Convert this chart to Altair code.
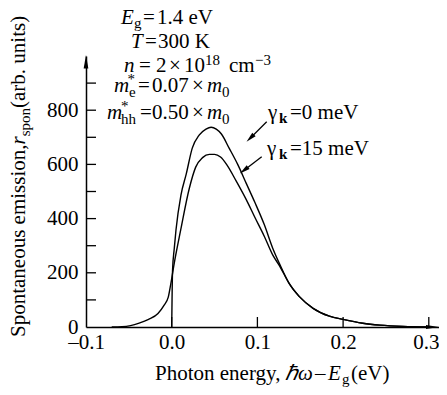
import altair as alt
import pandas as pd
import math

# ---------------- data ----------------
E_gamma0 = [0.0, 0.0004, 0.001, 0.003, 0.005, 0.0108, 0.017, 0.024, 0.032, 0.040, 0.046,
            0.052, 0.058, 0.067, 0.077, 0.087, 0.097, 0.108, 0.118, 0.126, 0.137, 0.149,
            0.165, 0.184, 0.200, 0.223, 0.243, 0.270, 0.300]
R_gamma0 = [0, 100, 210, 290, 358, 487, 565, 660, 708, 730, 737,
            730, 712, 660, 600, 530, 460, 378, 290, 232, 161, 112,
            69, 40, 28, 14, 7, 2, 0]

E_gamma15 = [-0.07, -0.058, -0.048, -0.038, -0.027, -0.016, -0.009, -0.004, -0.001, 0.003,
             0.0105, 0.0205, 0.028, 0.036, 0.044, 0.050, 0.057, 0.064, 0.075, 0.087, 0.097,
             0.108, 0.118, 0.126, 0.137, 0.149, 0.165, 0.184, 0.200, 0.223, 0.243, 0.270, 0.300]
R_gamma15 = [0, 1, 5, 14, 28, 50, 80, 110, 160, 236,
             358, 511, 590, 625, 637, 637, 627, 600, 540, 470, 405,
             335, 265, 225, 161, 112, 69, 40, 28, 14, 7, 2, 0]

x_label_values = [-0.1, 0.0, 0.1, 0.2, 0.3]
x_tick_values = [0.0, 0.1, 0.2, 0.3]
y_label_values = [0, 200, 400, 600, 800]
y_tick_values = [100, 200, 300, 400, 500, 600, 700, 800, 900]

series_names = ["0 meV", "15 meV"]

# ---------------- layout ----------------
FONT = "Liberation Serif, Times New Roman, serif"
FS = 21
SUBFS = 15
PAD_L, PAD_T = 78, 48
SVG_W, SVG_H = 431, 379
W, H = SVG_W - PAD_L, 271
X_MAX = -0.1 + W / 857.0
VX0, VY0 = 8 + PAD_L, 8 + PAD_T  # page position of the plot origin

df = pd.concat([
    pd.DataFrame({"E": E_gamma0, "R": R_gamma0, "series": series_names[0]}),
    pd.DataFrame({"E": E_gamma15, "R": R_gamma15, "series": series_names[1]}),
])

xs = alt.Scale(domain=[-0.1, X_MAX], nice=False, zero=False)
ys = alt.Scale(domain=[0, 1000], nice=False, zero=False)

xaxis = alt.Axis(values=x_label_values, title=None, grid=False, ticks=False,
                 domainColor="black", domainWidth=1.5,
                 labelExpr="datum.value < 0 ? '\u2013' + format(-datum.value, '.1f') : format(datum.value, '.1f')",
                 labelFont=FONT, labelFontSize=FS, labelColor="black", labelPadding=4,
                 labelOffset={"condition": {"test": "datum.value > 0.25", "value": -3}, "value": 0},
                 labelFlush=False, labelOverlap=False)
yaxis = alt.Axis(values=y_label_values, title=None, grid=False, ticks=False,
                 domainColor="black", domainWidth=1.5, format="d",
                 labelFont=FONT, labelFontSize=FS, labelColor="black", labelPadding=8,
                 labelFlush=False, labelOverlap=False)

lines = alt.Chart(df).mark_line(interpolate="monotone", color="black", strokeWidth=1.4).encode(
    x=alt.X("E:Q", scale=xs, axis=xaxis),
    y=alt.Y("R:Q", scale=ys, axis=yaxis),
    detail="series:N",
)

xticks = alt.Chart(pd.DataFrame({"E": x_tick_values})).mark_rule(color="black", strokeWidth=1.3).encode(
    x=alt.X("E:Q", scale=xs, axis=xaxis), y=alt.value(H), y2=alt.value(H - 10))
yticks = alt.Chart(pd.DataFrame({"R": y_tick_values})).mark_rule(color="black", strokeWidth=1.3).encode(
    y=alt.Y("R:Q", scale=ys, axis=yaxis), x=alt.value(0), x2=alt.value(10))

one = pd.DataFrame({"k": [0]})


def piece(text, px, py, size=FS, style="normal", weight="normal", angle=0):
    return alt.Chart(one).mark_text(
        text=text, font=FONT, fontSize=size, fontStyle=style, fontWeight=weight,
        angle=angle, align="left", baseline="alphabetic", color="black",
    ).encode(x=alt.value(px - VX0), y=alt.value(py - VY0))


layers = []
L1, L2, L3, L4, L5 = 23.5, 47.5, 71.5, 92, 119
XT = 380
P = [
    ("E", 121, L1, FS, "italic"), ("g", 134, L1 + 4.5, SUBFS, "normal"), ("=", 143, L1, FS, "normal"),
    ("1.4 eV", 157, L1, FS, "normal"),
    ("T", 131, L2, FS, "italic"), ("=", 145, L2, FS, "normal"), ("300 K", 158, L2, FS, "normal"),
    ("n", 124, L3, FS, "italic"), ("=", 139, L3, FS, "normal"), ("2", 156, L3, FS, "normal"),
    ("\u00d7", 169, L3, FS, "normal"), ("10", 184, L3, FS, "normal"), ("18", 205, L3 - 7, SUBFS, "normal"),
    ("cm", 229, L3, FS, "normal"), ("\u22123", 255, L3 - 7, SUBFS, "normal"),
    ("m", 114, L4, FS, "italic"), ("*", 127.5, L4 - 8, SUBFS, "normal"), ("e", 129, L4 + 4.5, SUBFS, "normal"),
    ("=", 138, L4, FS, "normal"), ("0.07", 152, L4, FS, "normal"), ("\u00d7", 192, L4, FS, "normal"),
    ("m", 207, L4, FS, "italic"), ("0", 222, L4 + 4.5, SUBFS, "normal"),
    ("m", 107, L5, FS, "italic"), ("*", 121, L5 - 8, SUBFS, "normal"), ("hh", 121, L5 + 4.5, SUBFS, "normal"),
    ("=", 140, L5, FS, "normal"), ("0.50", 152, L5, FS, "normal"), ("\u00d7", 192, L5, FS, "normal"),
    ("m", 207, L5, FS, "italic"), ("0", 222, L5 + 4.5, SUBFS, "normal"),
    # x title
    ("Photon energy,", 155, XT, FS, "normal"), ("\u210f\u03c9", 285, XT, FS, "italic"),
    ("\u2013", 315, XT, FS, "normal"), ("E", 328, XT, FS, "italic"), ("g", 342, XT + 3.5, SUBFS, "normal"),
    ("(eV)", 351, XT, FS, "normal"),
    # curve labels
    ("\u03b3", 268, 118.5, FS, "normal"), ("=0 meV", 290, 118.5, FS, "normal"),
    ("\u03b3", 267, 155, FS, "normal"), ("=15 meV", 290, 155, FS, "normal"),
]
for t, x, y, s, st in P:
    layers.append(piece(t, x, y, s, st))
layers.append(piece("k", 279, 122.5, SUBFS, "normal", "bold"))
layers.append(piece("k", 279, 159, SUBFS, "normal", "bold"))

# y title (rotated), pieces placed along the text direction
WID = {" ": 250, ",": 250, ".": 250, "(": 333, ")": 333, "S": 556, "a": 444, "b": 500, "e": 444,
       "i": 278, "m": 778, "n": 500, "o": 500, "p": 500, "r": 333, "s": 389, "t": 278, "u": 500}


def tw(s, size, italic=False):
    w = 0
    for c in s:
        w += (389 if (italic and c == "r") else WID.get(c, 500))
    return w * size / 1000


yt_x, yt_y = 25, 337
segs = [("Spontaneous emission,", FS, "normal", 0), ("r", FS, "italic", 0),
        ("spon", SUBFS, "normal", 5), ("(arb. units)", FS, "normal", 0)]
cur = yt_y
for t, s, st, dx in segs:
    layers.append(piece(t, yt_x + dx, cur, s, st, angle=270))
    cur -= tw(t, s, st == "italic")

# arrows of the curve labels
arrows = [((266.7, 121.7), (246.7, 141.7)), ((261.7, 156.7), (240.0, 173.3))]
for (x1, y1), (x2, y2) in arrows:
    d = math.hypot(x2 - x1, y2 - y1)
    ux, uy = (x2 - x1) / d, (y2 - y1) / d
    layers.append(alt.Chart(one).mark_rule(color="black", strokeWidth=1.3).encode(
        x=alt.value(x1 - VX0), y=alt.value(y1 - VY0),
        x2=alt.value(x2 - 6 * ux - VX0), y2=alt.value(y2 - 6 * uy - VY0)))
    ang = (math.degrees(math.atan2(ux, -uy)) + 360) % 360
    layers.append(alt.Chart(one).mark_point(
        shape="M0,-1L0.45,1L-0.45,1Z", size=110, filled=True, color="black", opacity=1,
        angle=ang, strokeWidth=0).encode(
        x=alt.value(x2 - 5 * ux - VX0), y=alt.value(y2 - 5 * uy - VY0)))

# axis arrow heads
layers.append(alt.Chart(one).mark_point(
    shape="M0,-1L0.35,1L-0.35,1Z", size=180, filled=True, color="black", opacity=1, strokeWidth=0
).encode(x=alt.value(0), y=alt.value(55 + 6.7 - VY0)))
layers.append(alt.Chart(one).mark_point(
    shape="M1,0L-1,-0.32L-1,0.32Z", size=170, filled=True, color="black", opacity=1, strokeWidth=0
).encode(x=alt.value(W - 6.5), y=alt.value(H)))

chart = alt.layer(lines, xticks, yticks, *layers).properties(
    width=W, height=H,
    padding={"left": PAD_L, "top": PAD_T, "right": 0, "bottom": SVG_H - PAD_T - H},
    autosize=alt.AutoSizeParams(type="none"),
    background="white",
).configure_view(stroke=None)

chart.save("out.html", embed_options={"renderer": "svg", "actions": False})
